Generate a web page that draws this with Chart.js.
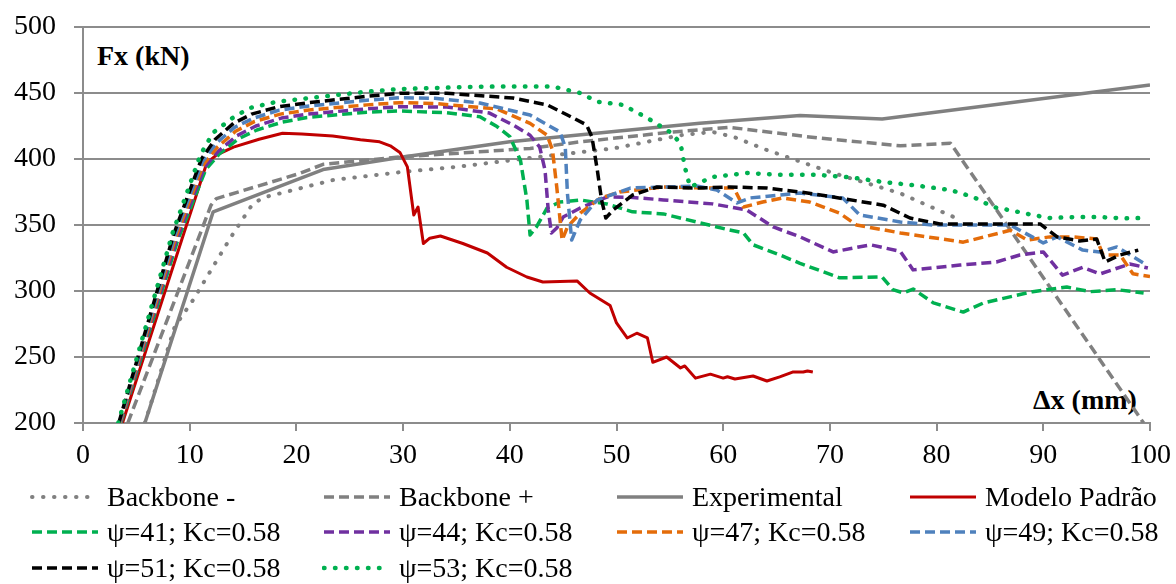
<!DOCTYPE html>
<html lang="pt">
<head>
    <meta charset="UTF-8">
    <title>Fx x Δx</title>
    <style>
        body, html {
            margin: 0;
            padding: 0;
            background: #ffffff;
            font-family: "Liberation Serif", "DejaVu Serif", serif;
        }

        .wrap {
            position: relative;
            width: 1176px;
            height: 584px;
            overflow: hidden;
        }

        .wrap canvas {
            position: absolute;
            left: 0;
            top: 0;
            z-index: 2;
        }

        .axis-title {
            position: absolute;
            font-weight: bold;
            font-size: 28px;
            line-height: 28px;
            color: #000;
            white-space: nowrap;
            z-index: 1;
        }

        .legend-item {
            position: absolute;
            height: 36px;
            line-height: 36px;
            font-size: 28px;
            color: #000;
            white-space: nowrap;
            z-index: 3;
        }

        .legend-item svg {
            position: absolute;
            left: 0;
            top: 10px;
        }

        .legend-item span {
            position: absolute;
            left: 77px;
            top: 0;
        }
    </style>
</head>
<body>
    <div class="wrap" id="wrap">
        <div class="axis-title" style="left:97px; top:42px;">Fx (kN)</div>
        <div class="axis-title" style="left:1033px; top:386px;">Δx (mm)</div>
        <canvas id="chart" width="1176" height="584"></canvas>
    </div>

    <script src="https://cdn.jsdelivr.net/npm/chart.js"></script>
    <script>
        // axis ticks
        const xTicks = [0, 10, 20, 30, 40, 50, 60, 70, 80, 90, 100];
        const yTicks = [200, 250, 300, 350, 400, 450, 500];

        const seriesLabels = [
            'Backbone -', 'Backbone +', 'Experimental', 'Modelo Padrão',
            'ψ=41; Kc=0.58', 'ψ=44; Kc=0.58', 'ψ=47; Kc=0.58', 'ψ=49; Kc=0.58',
            'ψ=51; Kc=0.58', 'ψ=53; Kc=0.58'
        ];

        // Backbone -
        const bbNegX = [5.8, 8.6, 10.3, 13.8, 15.9, 17, 23.4, 29.7, 35, 41.9, 49.7, 56, 59, 61, 64.1, 70.3, 76.6, 81.9];
        const bbNegY = [200, 273, 293, 340, 366, 371, 384, 390, 394, 400.8, 408, 418, 420.5, 416.7, 406.8, 389.4, 374, 355];

        // Backbone +
        const bbPosX = [4.2, 12, 12.5, 20.3, 22.5, 29.7, 41.9, 46.6, 55.3, 60.6, 68.8, 76.6, 81.3, 99.4];
        const bbPosY = [200, 365, 370, 389, 396, 401.5, 408, 413, 420.5, 424, 416, 410, 412, 200];

        // Experimental
        const expX = [5.8, 12.2, 22.5, 30, 40, 50, 57.8, 67.2, 74.9, 100];
        const expY = [200, 360, 392, 401.5, 413, 421, 427, 433, 430.3, 456];

        // Modelo Padrão
        const padX = [3.7, 9.3, 11.6, 12.5, 14.1, 16.5, 18.7, 20.5, 23.4, 26, 27.8, 28.8, 29.7, 30.4, 31, 31.4, 31.9, 32.5, 33.5,
            35.6, 37.9, 39.7, 41.6, 43.1, 46.3, 47.5, 49.4, 50, 51, 51.9, 52.9, 53.4, 54.7, 56, 56.4, 57.4, 58.8, 60, 60.4,
            61.1, 62.8, 64.1, 65.3, 66.5, 67.5, 67.9, 68.4];
        const padY = [200, 340, 397, 403, 409, 415, 419.5, 419, 417.4, 414.5, 413, 410, 405, 394, 357.6, 363.6, 336, 340, 341.7,
            336, 328.8, 318, 310.6, 306.8, 307.6, 298.5, 289, 275.8, 264.4, 268, 264.4, 246, 250, 241.7, 243.2, 234, 237, 234, 235,
            233.3, 235.6, 231.8, 235, 238.6, 238.6, 239.4, 238.6];

        // psi = 41
        const psi41X = [3.55, 8.9, 11.5, 12.8, 14.5, 16.3, 18.7, 21, 26.6, 29.7, 34.1, 37.2, 38.8, 40, 41, 41.6, 41.9, 42.5, 43.5,
            44.7, 46.6, 49.1, 51.5, 54.4, 57.5, 60.6, 61.9, 62.8, 65.3, 67.2, 70.9, 74.9, 75.9, 76.9, 77.8, 79.7, 82.5, 84.4,
            89, 92.2, 94.4, 96.9, 99.4];
        const psi41Y = [200, 339, 392, 404, 415, 422, 428, 431.5, 435.5, 436.4, 435, 432, 424.6, 417, 399, 369, 342.4, 348.5, 362.9,
            367.4, 369, 365.9, 360, 358.4, 352.3, 346.2, 344, 335, 327.3, 321, 310, 310.6, 301, 298.5, 301.5, 291, 284, 291,
            299.5, 303, 299.5, 301, 298.5];

        // psi = 44
        const psi44X = [3.5, 8.8, 11.4, 12.7, 14.4, 16.2, 18.6, 21, 26.6, 29.7, 34.1, 38.1, 40.3, 41.9, 42.8, 43.3, 43.6, 43.9,
            44.4, 45, 46.6, 49.1, 51.3, 54.4, 59, 62.2, 64.7, 67.2, 70.3, 73.8, 76.6, 77.8, 82.2, 85.6, 87.8, 90, 91.8, 93.7,
            95.3, 98.1, 99.8];
        const psi44Y = [200, 340, 394, 406, 417.5, 425, 431, 434, 438, 439.6, 439.4, 434.8, 425.8, 418, 409, 391.7, 361.4, 344,
            347.7, 356, 362.9, 371.2, 371, 369, 366, 361.4, 348.5, 341, 329.6, 335, 330, 316, 319.7, 322, 327.3, 329.6, 312, 318,
            312.9, 320.5, 317.4];

        // psi = 47
        const psi47X = [3.45, 8.7, 11.3, 12.6, 14.3, 16.1, 18.5, 21, 26.6, 29.7, 33, 38.8, 41.9, 43.5, 44, 44.4, 44.9, 45.4, 46.6,
            48.5, 50.3, 54.4, 59, 61, 61.9, 63.7, 65.6, 68.1, 70.9, 72.5, 76.6, 82.5, 86.9, 88.5, 90.6, 92.8, 95, 95.6, 97.2,
            98.4, 100];
        const psi47Y = [200, 341, 396, 409, 421, 428.5, 434, 437, 441, 442.7, 442, 437.9, 427, 418, 406.8, 378.8, 338.6, 348.5, 359,
            370.5, 375, 378.8, 378, 378, 363.6, 367.4, 370.5, 367.4, 359, 350, 344, 337, 346, 338.6, 341, 341, 339.4, 327.3, 327.3,
            313, 311];

        // psi = 49
        const psi49X = [3.4, 8.6, 11.2, 12.5, 14.2, 16, 18.4, 21, 26.6, 29.7, 33, 37.2, 41.9, 44.7, 45.2, 45.4, 45.8, 46.6, 48.2,
            51.3, 54.4, 57.5, 59.4, 61.3, 62.5, 67.2, 71.2, 72.8, 76.6, 79.7, 86.9, 90, 91.3, 93.7, 95.3, 96.9, 99.7];
        const psi49Y = [200, 342, 398, 412, 424, 431, 437, 440, 444.5, 446.4, 446, 442.4, 433.3, 420.5, 409, 374, 338.6, 353.8, 369,
            378, 378.8, 379.5, 376.5, 366.7, 370.5, 374.2, 370.5, 357.6, 352.3, 350, 350, 336.4, 341, 331, 329.6, 333.4, 319.7];

        // psi = 51
        const psi51X = [3.35, 8.5, 11.1, 12.4, 14.1, 15.8, 18.3, 21, 26.6, 29.7, 34.1, 40.3, 43.5, 45.4, 47.2, 47.7, 48.2, 48.6,
            49, 49.7, 51.5, 53.8, 57.5, 60.6, 64.1, 67.2, 70.3, 75, 77.5, 80.3, 89.7, 91.3, 93.4, 95, 95.8, 97.2, 98.9];
        const psi51Y = [200, 343, 400, 415, 427, 434, 439.5, 442.5, 447.5, 449.8, 449.8, 446.2, 441, 433.3, 425.8, 416.7, 391.7, 369,
            355.3, 361.4, 372.7, 378.8, 378, 378.8, 378, 375, 371.2, 365, 355.3, 350.8, 350.8, 341, 337.9, 339.4, 322, 327.3, 331];

        // psi = 53
        const psi53X = [3.3, 8.4, 11, 12.2, 14, 15.6, 18.2, 21, 26.6, 29.7, 37.2, 44, 45, 46.6, 48.2, 50.6, 52.9, 55, 56, 56.4,
            56.9, 59, 62.2, 65.3, 68.8, 72, 75, 78, 81.3, 83.5, 85.3, 87, 89, 90.6, 93, 95.3, 97.5, 99.4];
        const psi53Y = [200, 344, 403, 420, 431, 438.6, 443.4, 446, 451, 453, 454.8, 455, 453, 450, 443.4, 441, 431, 420.5, 412, 394,
            378.8, 386.4, 389.4, 388, 388, 386, 382.6, 380, 376.5, 371, 363.6, 361, 357.6, 355.3, 356, 356, 355, 355.3];

        const pts = (xs, ys) => xs.map((x, i) => ({ x: x, y: ys[i] }));

        const gray = '#808080';
        const DASH = [10, 5];
        const DOT = [0.5, 10.5];

        const series = [
            { xs: bbNegX, ys: bbNegY, color: gray, dash: DOT, width: 4, cap: 'round' },
            { xs: bbPosX, ys: bbPosY, color: gray, dash: DASH, width: 3.5, cap: 'butt' },
            { xs: expX, ys: expY, color: gray, dash: [], width: 3.5, cap: 'butt' },
            { xs: padX, ys: padY, color: '#c00000', dash: [], width: 3, cap: 'butt' },
            { xs: psi41X, ys: psi41Y, color: '#00b050', dash: DASH, width: 3.5, cap: 'butt' },
            { xs: psi44X, ys: psi44Y, color: '#7030a0', dash: DASH, width: 3.5, cap: 'butt' },
            { xs: psi47X, ys: psi47Y, color: '#e46c0a', dash: DASH, width: 3.5, cap: 'butt' },
            { xs: psi49X, ys: psi49Y, color: '#4f81bd', dash: DASH, width: 3.5, cap: 'butt' },
            { xs: psi51X, ys: psi51Y, color: '#000000', dash: DASH, width: 3.5, cap: 'butt' },
            { xs: psi53X, ys: psi53Y, color: '#00b050', dash: DOT, width: 4.5, cap: 'round' }
        ];

        const datasets = series.map((s, i) => ({
            label: seriesLabels[i],
            data: pts(s.xs, s.ys),
            borderColor: s.color,
            backgroundColor: s.color,
            borderWidth: s.width,
            borderDash: s.dash,
            borderCapStyle: s.cap,
            borderJoinStyle: 'round',
            pointRadius: 0,
            fill: false,
            tension: 0,
            order: series.length - i   // later series drawn on top
        }));

        const tickFont = { family: '"Liberation Serif", "DejaVu Serif", serif', size: 28 };
        const gridColor = '#8c8c8c';

        const ctx = document.getElementById('chart').getContext('2d');
        const chart = new Chart(ctx, {
            type: 'line',
            data: { datasets: datasets },
            options: {
                responsive: false,
                animation: false,
                events: [],
                layout: { padding: { top: 27, right: 26, bottom: 0, left: 0 } },
                scales: {
                    x: {
                        type: 'linear',
                        min: xTicks[0],
                        max: xTicks[xTicks.length - 1],
                        ticks: { stepSize: xTicks[1] - xTicks[0], color: '#000', font: tickFont, padding: 8, maxRotation: 0 },
                        grid: { drawOnChartArea: false, drawTicks: true, tickLength: 8, color: gridColor, lineWidth: 2 },
                        border: { color: gridColor, width: 2 },
                        afterFit: function (scale) {
                            scale.height = 161;
                            scale.paddingLeft = 0;
                            scale.paddingRight = 0;
                        }
                    },
                    y: {
                        type: 'linear',
                        min: yTicks[0],
                        max: yTicks[yTicks.length - 1],
                        ticks: { stepSize: yTicks[1] - yTicks[0], color: '#000', font: tickFont, padding: 18 },
                        grid: { color: gridColor, lineWidth: 2, tickLength: 9 },
                        border: { color: gridColor, width: 2 },
                        afterFit: function (scale) {
                            scale.width = 83;
                            scale.paddingTop = 0;
                            scale.paddingBottom = 0;
                        }
                    }
                },
                plugins: {
                    legend: { display: false },
                    tooltip: { enabled: false },
                    title: { display: false }
                }
            }
        });

        // HTML legend, 4 columns, built from the datasets
        const wrap = document.getElementById('wrap');
        const colLeft = [30, 322, 615, 908];
        const rowTop = [479, 514, 550];
        chart.data.datasets.forEach(function (ds, i) {
            const item = document.createElement('div');
            item.className = 'legend-item';
            item.style.left = colLeft[i % 4] + 'px';
            item.style.top = rowTop[Math.floor(i / 4)] + 'px';
            const dash = ds.borderDash.length ? ds.borderDash.join(' ') : 'none';
            item.innerHTML =
                '<svg width="70" height="16"><line x1="2" y1="8" x2="68" y2="8" stroke="' + ds.borderColor +
                '" stroke-width="' + ds.borderWidth + '" stroke-dasharray="' + dash +
                '" stroke-linecap="' + ds.borderCapStyle + '"/></svg><span></span>';
            item.querySelector('span').textContent = ds.label;
            wrap.appendChild(item);
        });
    </script>
</body>
</html>
